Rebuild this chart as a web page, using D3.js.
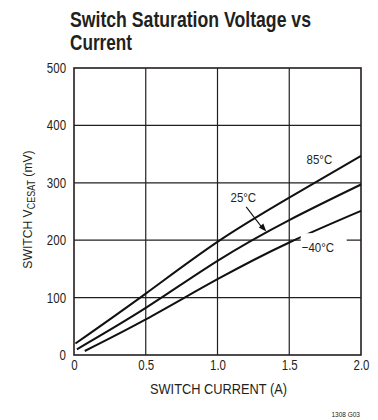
<!DOCTYPE html>
<html>
<head>
<meta charset="utf-8">
<script src="https://cdn.jsdelivr.net/npm/d3@7"></script>
<style>
  body { margin: 0; background: #fff; }
  svg text { font-family: "Liberation Sans", Arial, sans-serif; fill: #231f20; }
</style>
</head>
<body>
<div id="chart"></div>
<script>
var xTicks = [0, 0.5, 1.0, 1.5, 2.0],
    xTickLabels = ['0', '0.5', '1.0', '1.5', '2.0'],
    yTicks = [0, 100, 200, 300, 400, 500];

// switch current (A) vs Vcesat (mV)
var hotI = [0.01, 0.5, 1.0, 1.5, 2.0],
    hotV = [20, 107, 197, 274, 347],
    roomI = [0.02, 0.5, 1.0, 1.5, 2.0],
    roomV = [10, 82, 164, 235, 297],
    coldI = [0.075, 0.5, 1.0, 1.5, 2.0],
    coldV = [7, 62, 132, 196, 251];

var series = [
    {name: '85°C', i: hotI, v: hotV},
    {name: '25°C', i: roomI, v: roomV},
    {name: '−40°C', i: coldI, v: coldV}
];

var width = 378, height = 420,
    margin = {left: 74, top: 68, right: 17, bottom: 65},
    w = width - margin.left - margin.right,
    h = height - margin.top - margin.bottom;

var svg = d3.select('#chart').append('svg')
    .attr('width', width)
    .attr('height', height);

var xScale = d3.scaleLinear().domain([0, 2]).range([0, w]),
    yScale = d3.scaleLinear().domain([0, 500]).range([h, 0]);

// squeeze text horizontally, the original uses a condensed face
var narrow = function(sel, k) {
    sel.each(function() {
        var len = this.getComputedTextLength();
        d3.select(this)
            .attr('textLength', len * k)
            .attr('lengthAdjust', 'spacingAndGlyphs');
    });
};

// title
svg.append('text')
    .attr('x', 70).attr('y', 27)
    .style('font-size', '22px')
    .style('font-weight', 'bold')
    .attr('textLength', 241)
    .attr('lengthAdjust', 'spacingAndGlyphs')
    .text('Switch Saturation Voltage vs');
svg.append('text')
    .attr('x', 70).attr('y', 50)
    .style('font-size', '22px')
    .style('font-weight', 'bold')
    .attr('textLength', 62)
    .attr('lengthAdjust', 'spacingAndGlyphs')
    .text('Current');

var chart = svg.append('g')
    .attr('transform', 'translate(' + margin.left + ',' + margin.top + ')');

// grid
chart.append('g').selectAll('line')
    .data(xTicks.slice(1, -1))
    .enter().append('line')
    .attr('x1', function(d) { return xScale(d); })
    .attr('x2', function(d) { return xScale(d); })
    .attr('y1', 0).attr('y2', h)
    .attr('stroke', '#231f20').attr('stroke-width', 1.2);

chart.append('g').selectAll('line')
    .data(yTicks.slice(1, -1))
    .enter().append('line')
    .attr('y1', function(d) { return yScale(d); })
    .attr('y2', function(d) { return yScale(d); })
    .attr('x1', 0).attr('x2', w)
    .attr('stroke', '#231f20').attr('stroke-width', 1.2);

chart.append('rect')
    .attr('width', w).attr('height', h)
    .attr('fill', 'none')
    .attr('stroke', '#231f20').attr('stroke-width', 1.6);

// axes labels
var xAxis = d3.axisBottom(xScale)
    .tickValues(xTicks)
    .tickSize(0)
    .tickPadding(5)
    .tickFormat(function(d, i) { return xTickLabels[i]; });

var yAxis = d3.axisLeft(yScale)
    .tickValues(yTicks)
    .tickSize(0)
    .tickPadding(8);

var xx = chart.append('g')
    .attr('transform', 'translate(0,' + h + ')')
    .call(xAxis);
xx.select('.domain').remove();
xx.selectAll('text').style('font-size', '14px').attr('fill', '#231f20')
    .call(narrow, 0.82);

var yy = chart.append('g').call(yAxis);
yy.select('.domain').remove();
yy.selectAll('text').style('font-size', '14px').attr('fill', '#231f20')
    .call(narrow, 0.82);

// curves
var line = d3.line()
    .x(function(d) { return xScale(d[0]); })
    .y(function(d) { return yScale(d[1]); })
    .curve(d3.curveNatural);

chart.append('g').selectAll('path')
    .data(series)
    .enter().append('path')
    .attr('d', function(s) { return line(d3.zip(s.i, s.v)); })
    .attr('fill', 'none')
    .attr('stroke', '#111')
    .attr('stroke-width', 2);

// curve labels
chart.append('text')
    .attr('x', xScale(1.71)).attr('y', yScale(333))
    .attr('text-anchor', 'middle')
    .style('font-size', '13.5px')
    .text(series[0].name)
    .call(narrow, 0.85);

chart.append('rect')
    .attr('x', xScale(1.58)).attr('y', yScale(200) - 7)
    .attr('width', 46).attr('height', 15)
    .attr('fill', '#fff');

chart.append('text')
    .attr('x', xScale(1.18)).attr('y', yScale(267))
    .attr('text-anchor', 'middle')
    .style('font-size', '13.5px')
    .text(series[1].name)
    .call(narrow, 0.85);

chart.append('line')
    .attr('x1', xScale(1.2)).attr('y1', yScale(258))
    .attr('x2', xScale(1.32)).attr('y2', yScale(219))
    .attr('stroke', '#111').attr('stroke-width', 1.1);

chart.append('path')
    .attr('d', function() {
        var x = xScale(1.34), y = yScale(215);
        return 'M' + x + ',' + y + 'L' + (x - 7.5) + ',' + (y - 4) + 'L' + (x - 3) + ',' + (y - 8) + 'Z';
    })
    .attr('fill', '#111');

chart.append('text')
    .attr('x', xScale(1.7)).attr('y', yScale(200) + 12)
    .attr('text-anchor', 'middle')
    .style('font-size', '13.5px')
    .text(series[2].name)
    .call(narrow, 0.85);

// axis titles
svg.append('text')
    .attr('x', margin.left + w / 2 + 1)
    .attr('y', 394)
    .attr('text-anchor', 'middle')
    .style('font-size', '14px')
    .attr('textLength', 137)
    .attr('lengthAdjust', 'spacingAndGlyphs')
    .text('SWITCH CURRENT (A)');

var yl = svg.append('text')
    .attr('transform', 'translate(32,' + (margin.top + h / 2 - 2) + ') rotate(-90) scale(0.9,1)')
    .attr('text-anchor', 'middle')
    .style('font-size', '13.5px');
yl.append('tspan').text('SWITCH V');
yl.append('tspan').attr('dy', 3).style('font-size', '10px').text('CESAT');
yl.append('tspan').attr('dy', -3).text(' (mV)');

svg.append('text')
    .attr('x', 360).attr('y', 417)
    .attr('text-anchor', 'end')
    .style('font-size', '6.5px')
    .text('1308 G03');
</script>
</body>
</html>
